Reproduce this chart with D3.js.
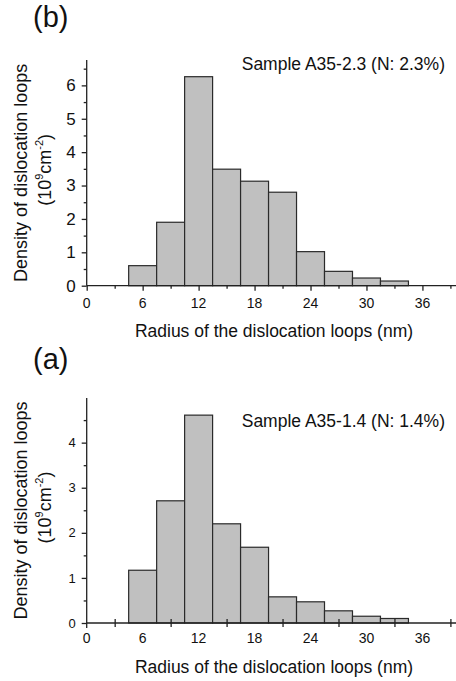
<!DOCTYPE html>
<html>
<head>
<meta charset="utf-8">
<script src="https://cdn.jsdelivr.net/npm/d3@7"></script>
<style>
  body { margin: 0; background: #fff; }
  svg { display: block; font-family: "Liberation Sans", Arial, sans-serif; }
  .axis path, .axis line { stroke: #222; stroke-width: 1.3; }
  .axis text { fill: #111; }
</style>
</head>
<body>
<div id="chart"></div>
<script>
(function() {
  const width = 456;
  const height = 681;

  // ===== data =====
  const binCenters = [6, 9, 12, 15, 18, 21, 24, 27, 30, 33];
  const binWidth = 3;
  const densityB = [0.6, 1.9, 6.26, 3.49, 3.13, 2.8, 1.02, 0.43, 0.23, 0.14];
  const densityA = [1.17, 2.71, 4.61, 2.2, 1.68, 0.58, 0.47, 0.27, 0.15, 0.1];
  const xTickLabels = [0, 6, 12, 18, 24, 30, 36];
  const xMinorTicks = [3, 9, 15, 21, 27, 33, 39];
  const yTicksB = [0, 1, 2, 3, 4, 5, 6];
  const yTicksA = [0, 1, 2, 3, 4];
  const yMinorB = [0.5, 1.5, 2.5, 3.5, 4.5, 5.5, 6.5];
  const yMinorA = [0.5, 1.5, 2.5, 3.5, 4.5];

  const svg = d3.select("#chart").append("svg")
    .attr("width", width)
    .attr("height", height);

  const x = d3.scaleLinear().domain([0, 39.6]).range([86.7, 456]);

  const panels = [
    {
      label: "(b)", labelY: 27, sample: "Sample A35-2.3 (N: 2.3%)", sampleY: 70,
      values: densityB, yMax: 6.76, yTop: 60, yBottom: 285.7,
      yTicks: yTicksB, yMinor: yMinorB, yFont: 17, xFont: 14,
      xLabelY: 308, titleY: 337, crossMinor: false
    },
    {
      label: "(a)", labelY: 369, sample: "Sample A35-1.4 (N: 1.4%)", sampleY: 427,
      values: densityA, yMax: 4.99, yTop: 398, yBottom: 623,
      yTicks: yTicksA, yMinor: yMinorA, yFont: 13, xFont: 14,
      xLabelY: 643, titleY: 673, crossMinor: true
    }
  ];

  panels.forEach(p => {
    const y = d3.scaleLinear().domain([0, p.yMax]).range([p.yBottom, p.yTop]);
    const g = svg.append("g");

    // bars
    g.selectAll("rect.bar")
      .data(binCenters.map((c, i) => ({ c: c, v: p.values[i] })))
      .join("rect")
      .attr("class", "bar")
      .attr("x", d => x(d.c - binWidth / 2))
      .attr("y", d => y(d.v))
      .attr("width", d => x(d.c + binWidth / 2) - x(d.c - binWidth / 2))
      .attr("height", d => y(0) - y(d.v))
      .attr("fill", "#c0c0c0")
      .attr("stroke", "#2a2a2a")
      .attr("stroke-width", 1.2);

    // x axis
    const xAxisG = g.append("g")
      .attr("class", "axis")
      .attr("transform", `translate(0,${y(0)})`);
    if (!p.crossMinor) {
      xAxisG.call(d3.axisBottom(x).tickValues(xTickLabels).tickSize(5).tickFormat(""));
      xAxisG.append("g").call(d3.axisBottom(x).tickValues(xMinorTicks).tickSize(3).tickFormat(""))
        .call(a => a.select(".domain").remove());
    } else {
      xAxisG.call(d3.axisBottom(x).tickValues(xTickLabels).tickSize(0).tickFormat(""));
      xAxisG.append("g")
        .attr("transform", "translate(0,-4)")
        .call(d3.axisBottom(x).tickValues(xMinorTicks).tickSize(8).tickFormat(""))
        .call(a => a.select(".domain").remove());
    }
    xAxisG.select(".domain").attr("d", `M${x(0)},0H${width}`);

    g.selectAll("text.xlab")
      .data(xTickLabels)
      .join("text")
      .attr("class", "xlab")
      .attr("x", d => x(d))
      .attr("y", p.xLabelY)
      .attr("text-anchor", "middle")
      .attr("font-size", p.xFont)
      .attr("fill", "#111")
      .text(d => d);

    // y axis
    const yAxisG = g.append("g")
      .attr("class", "axis")
      .attr("transform", `translate(${x(0)},0)`)
      .call(d3.axisLeft(y).tickValues(p.yTicks).tickSize(5).tickPadding(6).tickFormat(d3.format("d")))
      .call(a => a.selectAll("text").attr("font-size", p.yFont).attr("font-family", null));
    yAxisG.append("g")
      .call(d3.axisLeft(y).tickValues(p.yMinor).tickSize(3).tickFormat(""))
      .call(a => a.select(".domain").remove());
    yAxisG.select(".domain").attr("d", `M0,${p.yBottom + (p.crossMinor ? 5 : 0)}V${p.yTop}`);

    // sample label
    g.append("text")
      .attr("x", 445)
      .attr("y", p.sampleY)
      .attr("text-anchor", "end")
      .attr("font-size", 17.5)
      .attr("fill", "#111")
      .text(p.sample);

    // panel label
    g.append("text")
      .attr("x", 33)
      .attr("y", p.labelY)
      .attr("font-size", 29)
      .attr("fill", "#111")
      .text(p.label);

    // x title
    g.append("text")
      .attr("x", 274)
      .attr("y", p.titleY)
      .attr("text-anchor", "middle")
      .attr("font-size", 17.5)
      .attr("fill", "#111")
      .text("Radius of the dislocation loops (nm)");

    // y title
    const cy = (p.yTop + p.yBottom) / 2;
    g.append("text")
      .attr("transform", `translate(27,${cy}) rotate(-90)`)
      .attr("text-anchor", "middle")
      .attr("font-size", 18)
      .attr("fill", "#111")
      .text("Density of dislocation loops");

    const t2 = g.append("text")
      .attr("transform", `translate(51,${cy - 3}) rotate(-90)`)
      .attr("text-anchor", "middle")
      .attr("font-size", 18)
      .attr("fill", "#111");
    t2.append("tspan").text("(10");
    t2.append("tspan").attr("font-size", 11).attr("dy", -8).text("9");
    t2.append("tspan").attr("dy", 8).text("cm");
    t2.append("tspan").attr("font-size", 11).attr("dy", -8).text("-2");
    t2.append("tspan").attr("dy", 8).text(")");
  });
})();
</script>
</body>
</html>
